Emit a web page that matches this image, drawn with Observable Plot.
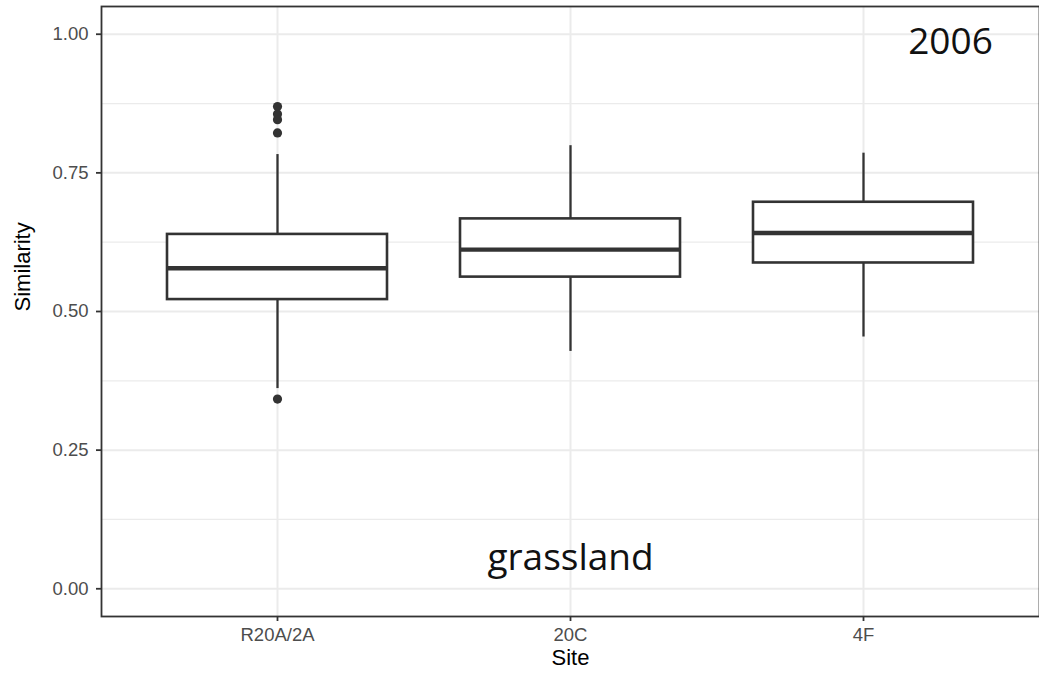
<!DOCTYPE html>
<html>
<head>
<meta charset="utf-8">
<script src="https://cdn.jsdelivr.net/npm/d3@7"></script>
<script src="https://cdn.jsdelivr.net/npm/@observablehq/plot@0.6"></script>
<style>
  html, body { margin: 0; padding: 0; background: #fff; }
</style>
</head>
<body>
<div id="chart"></div>
<script>
// ---- data ----
const sites = ["R20A/2A", "20C", "4F"];
const q1 = [0.5215, 0.562, 0.5875];
const medians = [0.578, 0.6115, 0.6415];
const q3 = [0.639, 0.667, 0.697];
const whiskerLow = [0.361, 0.428, 0.454];
const whiskerHigh = [0.783, 0.799, 0.7855];
const outlierSites = ["R20A/2A", "R20A/2A", "R20A/2A", "R20A/2A", "R20A/2A"];
const outlierValues = [0.8695, 0.856, 0.846, 0.822, 0.342];
const yTicks = [0, 0.25, 0.5, 0.75, 1];
const yMinorTicks = [0.125, 0.375, 0.625, 0.875];
const yearLabel = "2006";
const habitatLabel = "grassland";
const habitatSite = "20C";
const xTitle = "Site";
const yTitle = "Similarity";

// ---- tables built from the arrays ----
const boxes = sites.map((s, i) => ({
  site: s, q1: q1[i], median: medians[i], q3: q3[i], lo: whiskerLow[i], hi: whiskerHigh[i]
}));
const outliers = outlierSites.map((s, i) => ({site: s, value: outlierValues[i]}));
const habitat = [{site: habitatSite, label: habitatLabel}];

const ink = "#333333";
const grid = "#EBEBEB";

const chart = Plot.plot({
  width: 1039,
  height: 679,
  marginTop: 6,
  marginBottom: 63,
  marginLeft: 101,
  marginRight: 0,
  style: {fontFamily: "'Liberation Sans', Arial, sans-serif", fontSize: "18.5px", background: "#fff"},
  x: {type: "band", domain: sites, paddingInner: 0.25, paddingOuter: 0.225, label: null},
  y: {domain: [-0.05, 1.05], label: null},
  marks: [
    Plot.gridY(yMinorTicks, {stroke: grid, strokeOpacity: 1, strokeWidth: 1.2}),
    Plot.gridY(yTicks, {stroke: grid, strokeOpacity: 1, strokeWidth: 2}),
    Plot.gridX(sites, {stroke: grid, strokeOpacity: 1, strokeWidth: 2}),
    Plot.ruleX(boxes, {x: "site", y1: "lo", y2: "hi", stroke: ink, strokeWidth: 2.3}),
    Plot.barY(boxes, {x: "site", y1: "q1", y2: "q3", fill: "#fff", stroke: ink, strokeWidth: 2.6}),
    Plot.tickY(boxes, {x: "site", y: "median", stroke: ink, strokeWidth: 4.4}),
    Plot.dot(outliers, {x: "site", y: "value", r: 4.6, fill: ink, stroke: "none"}),
    Plot.frame({stroke: ink, strokeWidth: 1.8}),
    Plot.axisY(yTicks, {tickFormat: d3.format(".2f"), tickSize: 5, tickPadding: 8, stroke: ink, strokeWidth: 1.8, fill: "#4D4D4D", label: null}),
    Plot.axisX(sites, {tickSize: 5, tickPadding: 6, stroke: ink, strokeWidth: 1.8, fill: "#4D4D4D", label: null}),
    Plot.text([yTitle], {frameAnchor: "left", dx: -79, rotate: -90, text: d => d, fontSize: 22, fill: "#000"}),
    Plot.text([xTitle], {frameAnchor: "bottom", dy: 48, text: d => d, fontSize: 22, fill: "#000"}),
    Plot.text([yearLabel], {frameAnchor: "top-right", textAnchor: "middle", dx: -89, dy: 21, text: d => d, fontSize: 37, fontFamily: "'Open Sans', sans-serif", fill: "#111"}),
    Plot.text(habitat, {x: "site", frameAnchor: "bottom", dy: -47, text: "label", fontSize: 37, fontFamily: "'Open Sans', sans-serif", fill: "#111"})
  ]
});
document.getElementById("chart").appendChild(chart);
</script>
</body>
</html>
